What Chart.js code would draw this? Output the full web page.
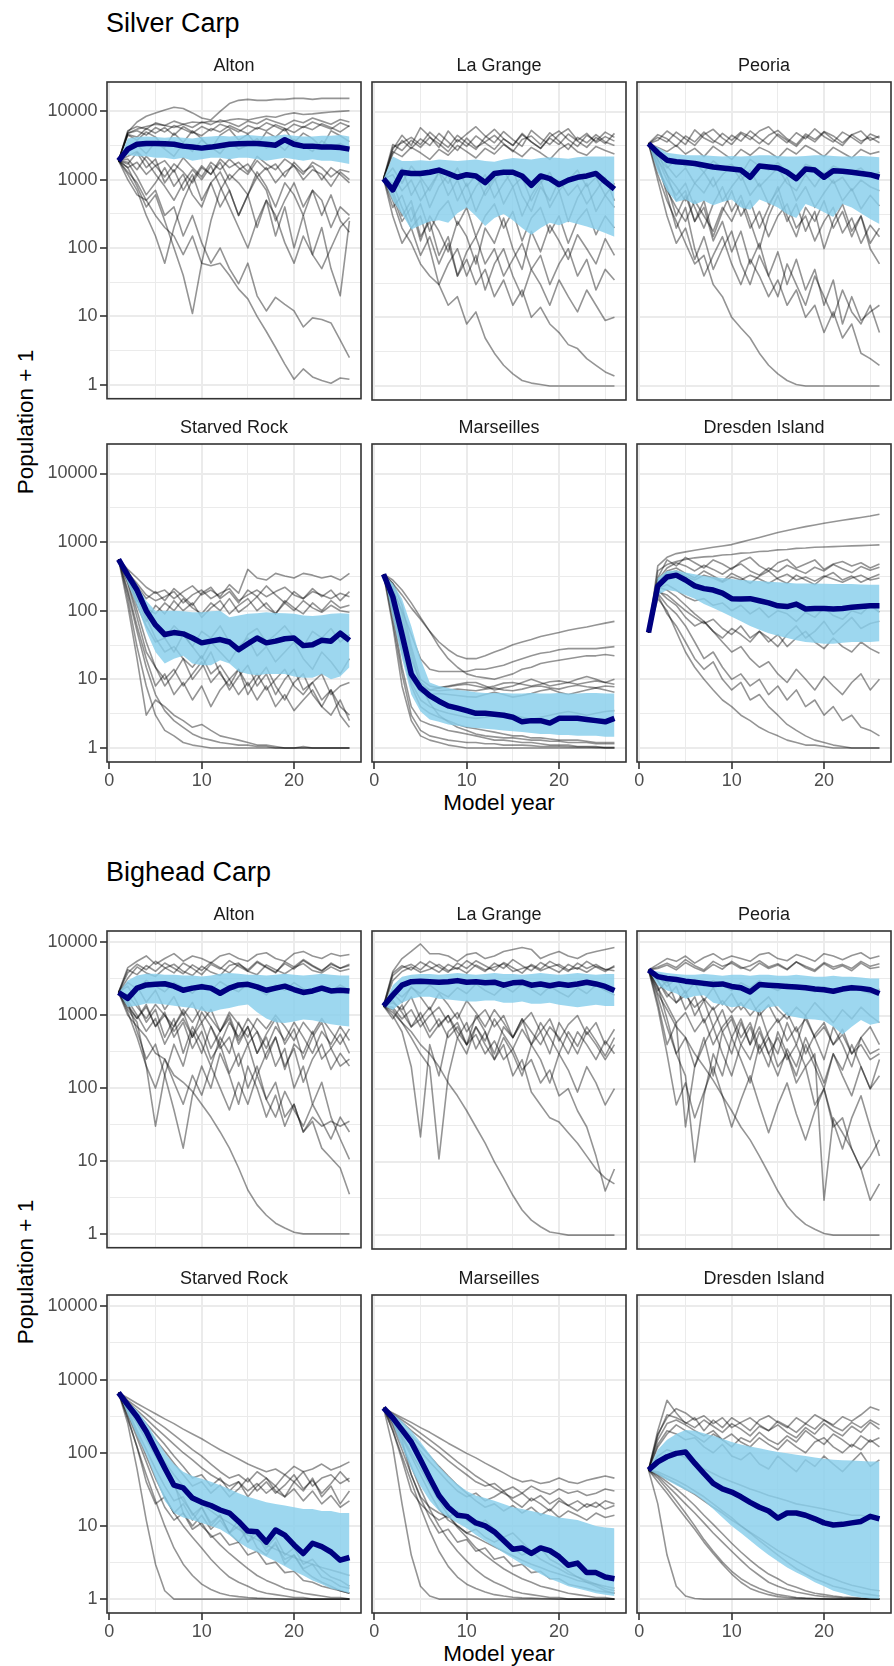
<!DOCTYPE html>
<html>
<head>
<meta charset="utf-8">
<script src="https://cdn.jsdelivr.net/npm/chart.js@4.4.1/dist/chart.umd.min.js"></script>
<style>
  body { margin: 0; background: #fff; }
  #page { position: relative; width: 894px; height: 1666px; font-family: "Liberation Sans", Arial, sans-serif; overflow: hidden; }
  #page canvas { position: absolute; }
  .ptitle { position: absolute; font-size: 27px; line-height: 27px; color: #000; white-space: nowrap; }
  .xtitle { position: absolute; font-size: 22.5px; line-height: 22.5px; color: #000; white-space: nowrap; transform: translateX(-50%); }
  .ytitle { position: absolute; font-size: 22.5px; line-height: 22.5px; color: #000; white-space: nowrap; transform: translate(-50%, -50%) rotate(-90deg); }
</style>
</head>
<body>
<div id="page"></div>
<script>
// model years and axis breaks
const years = [1, 2, 3, 4, 5, 6, 7, 8, 9, 10, 11, 12, 13, 14, 15, 16, 17, 18, 19, 20, 21, 22, 23, 24, 25, 26];
const yMajor = [1, 10, 100, 1000, 10000];
const yMinor = [3.162, 31.62, 316.2, 3162];
const xMajor = [0, 10, 20];
const xMinor = [5, 15, 25];

// ---- Silver carp ----
const silverAltonMedian = [1900, 2800, 3300, 3400, 3400, 3350, 3300, 3100, 3000, 2900, 3000, 3150, 3300, 3350, 3400, 3400, 3300, 3200, 3850, 3300, 3100, 3100, 3000, 3000, 2950, 2800];
const silverAltonLow = [1900, 2300, 2200, 2200, 2100, 2100, 2000, 2100, 1900, 2000, 2100, 2100, 2000, 2100, 2100, 2000, 1900, 2000, 2100, 2000, 1900, 2000, 1900, 1900, 1800, 1700];
const silverAltonHigh = [1900, 4000, 4200, 4300, 4200, 4100, 4200, 4100, 4000, 4200, 4300, 4400, 4300, 4400, 4500, 4400, 4300, 4400, 4600, 4400, 4300, 4300, 4400, 4400, 4500, 4300];
const silverAltonRuns = [
  [1900, 5000, 7000, 8500, 9500, 10500, 11500, 11000, 9500, 8000, 7500, 10000, 13000, 14500, 15000, 14500, 14500, 15000, 15000, 15500, 15500, 15000, 15500, 15500, 15500, 15500],
  [1900, 4800, 5500, 6000, 6500, 6200, 5800, 6500, 7000, 6800, 7200, 7000, 7500, 7800, 7500, 8000, 8500, 8200, 9000, 9500, 9000, 9200, 9500, 9800, 10000, 10200],
  [1900, 4800, 5200, 4500, 5800, 5000, 6200, 5500, 4800, 6000, 5200, 6500, 5800, 5000, 6200, 5500, 6800, 6000, 5200, 6500, 5800, 7000, 6200, 5500, 6800, 6000],
  [1900, 4500, 3800, 5000, 4200, 3000, 4800, 3500, 5200, 4000, 2800, 4500, 5500, 3800, 4600, 3200, 5000, 4200, 5600, 3500, 4800, 4000, 3000, 5200, 4400, 3600],
  [1900, 1500, 1800, 1200, 1600, 1100, 1700, 1300, 900, 1500, 1200, 1800, 1000, 1400, 1700, 1100, 1500, 900, 1300, 1600, 1000, 1400, 1200, 800, 1300, 1000],
  [1900, 1200, 700, 300, 150, 60, 200, 500, 1000, 1600, 1200, 2000, 1500, 1800, 1300, 2200, 1700, 1400, 2000, 1600, 1200, 1800, 1500, 1100, 1400, 1300],
  [1900, 1500, 800, 400, 600, 250, 100, 40, 11, 60, 250, 700, 1200, 900, 600, 1300, 800, 400, 900, 600, 300, 700, 500, 200, 400, 300],
  [1900, 1000, 600, 500, 300, 200, 150, 80, 150, 60, 55, 60, 40, 25, 18, 10, 6, 3.5, 2, 1.2, 1.7, 1.3, 1.15, 1.05, 1.25, 1.2],
  [1900, 1300, 900, 500, 700, 300, 400, 150, 300, 120, 60, 100, 50, 30, 60, 20, 12, 19, 15, 12, 7, 9.5, 9, 8, 4.5, 2.5],
  [1900, 1700, 2500, 1500, 2000, 900, 1400, 700, 1200, 500, 900, 400, 700, 300, 600, 200, 500, 150, 400, 100, 300, 80, 200, 50, 20, 250],
  [1900, 5200, 6000, 5500, 6800, 6200, 7200, 6500, 5800, 7000, 6400, 7500, 6800, 6000, 7200, 6600, 7800, 7000, 6300, 7400, 6800, 8000, 7200, 6500, 7600, 7000],
  [1900, 4600, 4200, 5600, 4800, 5800, 4500, 6000, 5000, 4400, 5600, 5000, 6200, 5400, 4700, 5800, 5200, 6400, 5600, 4900, 6000, 5400, 6600, 5800, 5000, 6200],
  [1900, 2600, 3200, 2400, 3600, 2800, 2200, 3400, 2600, 3800, 3000, 2400, 3600, 2800, 3200, 4000, 2900, 3500, 2700, 3900, 3100, 2600, 3700, 3000, 3400, 2800],
  [1900, 2000, 1400, 2200, 1600, 1900, 1300, 2100, 1500, 1100, 1800, 1400, 2000, 1500, 1200, 1900, 1400, 1700, 1100, 1800, 1300, 1600, 1000, 1500, 1200, 900],
  [1900, 1800, 1100, 600, 900, 1500, 800, 1200, 600, 400, 900, 1300, 700, 300, 600, 1100, 700, 250, 500, 900, 400, 700, 300, 600, 250, 170],
  [1900, 2200, 2600, 1900, 1200, 800, 500, 900, 1400, 1000, 1600, 800, 400, 200, 100, 250, 500, 300, 120, 60, 150, 80, 50, 100, 200, 280]
];

const silverLaGrangeMedian = [1050, 720, 1300, 1250, 1250, 1300, 1400, 1250, 1100, 1200, 1150, 920, 1250, 1300, 1300, 1150, 840, 1150, 1050, 860, 1000, 1100, 1150, 1250, 950, 740];
const silverLaGrangeLow = [1050, 500, 320, 190, 220, 250, 260, 240, 330, 400, 300, 215, 280, 320, 260, 200, 160, 200, 240, 220, 250, 230, 210, 190, 170, 150];
const silverLaGrangeHigh = [1050, 2200, 1900, 1900, 1950, 1900, 2000, 1950, 1900, 1950, 2000, 1900, 1850, 2000, 2100, 2050, 2000, 2100, 2150, 2100, 2050, 2150, 2200, 2200, 2200, 2200];
const silverLaGrangeRuns = [
  [1050, 3000, 3500, 4200, 3300, 5000, 3800, 3000, 4500, 3500, 2800, 4200, 5500, 4000, 3200, 4800, 3600, 2900, 4300, 5200, 3900, 3100, 4500, 3700, 5000, 4200],
  [1050, 2800, 4500, 3200, 5800, 4300, 3000, 5200, 3600, 4700, 6000, 4400, 3500, 5100, 3900, 3100, 5300, 4100, 3300, 4600, 5600, 3800, 4800, 3500, 4300, 3700],
  [1050, 2600, 2200, 3000, 2500, 2000, 2800, 2300, 3200, 2600, 2100, 2900, 2400, 3300, 2700, 2200, 3000, 2500, 2000, 2800, 3400, 2600, 2300, 3100, 2700, 2400],
  [1050, 600, 250, 400, 130, 300, 180, 90, 250, 150, 60, 200, 120, 280, 100, 50, 180, 90, 220, 130, 70, 160, 100, 60, 140, 80],
  [1050, 800, 1500, 600, 1000, 400, 800, 1200, 500, 900, 350, 700, 1100, 450, 800, 300, 600, 1000, 400, 700, 250, 550, 900, 350, 600, 400],
  [1050, 500, 200, 120, 60, 40, 30, 15, 20, 8, 12, 5, 3, 2, 1.5, 1.2, 1.1, 1.05, 1, 1, 1, 1, 1, 1, 1, 1],
  [1050, 700, 300, 500, 150, 250, 80, 150, 40, 70, 30, 50, 20, 35, 15, 25, 10, 14, 8, 6, 4, 3.5, 2.5, 2, 1.6, 1.4],
  [1050, 900, 400, 200, 300, 100, 30, 60, 100, 40, 80, 25, 60, 100, 40, 20, 50, 30, 15, 35, 20, 12, 25, 15, 9, 10],
  [1050, 3300, 2700, 3800, 3000, 4200, 3400, 2600, 3900, 3100, 4400, 3500, 2800, 4000, 3200, 4600, 3600, 2900, 4100, 3300, 4700, 3700, 3000, 4200, 3400, 4800],
  [1050, 2400, 3800, 2900, 4000, 3200, 4800, 3600, 2700, 4100, 3000, 3600, 4500, 3400, 2600, 3900, 4400, 3300, 4900, 3700, 2800, 4200, 3500, 4600, 3600, 3200],
  [1050, 1200, 700, 1000, 500, 800, 1300, 600, 1000, 450, 800, 1200, 550, 900, 1400, 600, 350, 800, 500, 1000, 600, 850, 450, 700, 1100, 500],
  [1050, 400, 600, 250, 450, 180, 350, 500, 220, 400, 150, 300, 450, 200, 350, 130, 280, 400, 170, 300, 120, 260, 380, 160, 300, 200],
  [1050, 1500, 900, 1600, 1100, 700, 1300, 900, 1500, 800, 1200, 600, 1000, 1400, 800, 1100, 500, 900, 1300, 700, 1000, 1400, 800, 1100, 600, 900],
  [1050, 300, 120, 200, 80, 150, 60, 120, 40, 90, 150, 60, 100, 40, 70, 120, 50, 80, 30, 60, 100, 40, 70, 25, 50, 35]
];

const silverPeoriaMedian = [3400, 2500, 1950, 1850, 1800, 1750, 1650, 1550, 1500, 1450, 1400, 1100, 1600, 1550, 1500, 1300, 1050, 1450, 1400, 1100, 1370, 1350, 1300, 1250, 1200, 1100];
const silverPeoriaLow = [3400, 1300, 700, 480, 520, 440, 500, 430, 480, 520, 400, 370, 520, 460, 400, 320, 280, 450, 400, 340, 290, 450, 400, 330, 270, 230];
const silverPeoriaHigh = [3400, 3000, 2500, 2400, 2300, 2300, 2300, 2250, 2200, 2250, 2200, 2250, 2300, 2300, 2250, 2200, 2200, 2250, 2300, 2300, 2250, 2200, 2200, 2250, 2200, 2150];
const silverPeoriaRuns = [
  [3400, 4200, 3600, 5000, 4000, 3200, 4600, 5500, 4100, 3300, 4800, 3900, 5200, 6000, 4400, 3500, 4900, 4000, 5600, 4300, 3600, 5000, 4200, 3400, 4700, 4100],
  [3400, 3800, 5200, 4200, 3300, 5400, 4100, 3500, 4800, 3800, 5000, 4300, 3400, 4500, 5300, 4000, 3300, 4700, 3900, 5100, 4400, 3500, 4600, 5200, 3800, 4400],
  [3400, 3000, 2600, 3200, 2400, 2900, 2200, 3100, 2500, 2000, 2800, 2300, 3000, 2600, 2100, 2900, 2400, 3200, 2700, 2200, 3000, 2500, 2100, 2800, 2400, 2600],
  [3400, 1500, 800, 300, 600, 250, 500, 150, 350, 700, 300, 500, 200, 400, 800, 300, 150, 400, 250, 500, 200, 350, 150, 300, 120, 200],
  [3400, 2000, 1000, 600, 900, 400, 200, 450, 800, 350, 600, 250, 100, 300, 600, 250, 450, 180, 350, 100, 250, 450, 180, 300, 100, 60],
  [3400, 1200, 500, 250, 120, 60, 80, 30, 20, 10, 7, 5, 3, 2, 1.5, 1.2, 1.05, 1, 1, 1, 1, 1, 1, 1, 1, 1],
  [3400, 1800, 600, 200, 400, 100, 40, 80, 150, 60, 30, 70, 40, 20, 35, 15, 25, 10, 15, 6, 12, 5, 8, 3, 2.5, 2],
  [3400, 2500, 1200, 500, 700, 250, 400, 130, 250, 90, 180, 60, 120, 40, 90, 30, 70, 25, 50, 15, 35, 8, 20, 9, 12, 15],
  [3400, 4600, 4000, 3100, 4400, 3600, 5000, 3800, 3200, 4500, 3700, 5200, 4100, 3300, 4700, 3800, 3100, 4400, 3600, 5000, 3900, 3200, 4600, 3700, 4200, 3500],
  [3400, 2000, 1200, 800, 500, 900, 650, 1100, 500, 800, 1200, 600, 900, 450, 700, 1100, 500, 800, 400, 650, 1000, 500, 750, 380, 600, 420],
  [3400, 1600, 700, 400, 250, 500, 300, 180, 400, 250, 500, 200, 350, 150, 300, 450, 200, 300, 130, 250, 400, 170, 280, 120, 220, 150],
  [3400, 2800, 1600, 1100, 1500, 900, 1300, 800, 1200, 1600, 1000, 1400, 800, 1100, 1500, 900, 700, 1200, 800, 1300, 900, 1100, 700, 1000, 800, 700],
  [3400, 2200, 1500, 2000, 1600, 1800, 1300, 1900, 1500, 1700, 1200, 2000, 1600, 1400, 1800, 1300, 1100, 1700, 1500, 1200, 1600, 1400, 1300, 1500, 1100, 1300],
  [3400, 1000, 300, 120, 200, 70, 150, 50, 100, 180, 60, 30, 80, 40, 20, 60, 30, 15, 40, 20, 10, 25, 12, 8, 15, 6]
];

const silverStarvedRockMedian = [560, 330, 200, 100, 62, 45, 48, 46, 40, 34, 36, 38, 35, 27, 33, 40, 34, 36, 39, 40, 31, 32, 37, 36, 47, 37];
const silverStarvedRockLow = [560, 250, 120, 50, 25, 17, 20, 22, 17, 16, 16, 19, 17, 13, 12, 11.5, 12, 12, 12, 11, 10.5, 10.5, 12, 10, 11, 15];
const silverStarvedRockHigh = [560, 380, 240, 140, 100, 100, 100, 98, 95, 95, 98, 100, 80, 85, 90, 92, 95, 93, 92, 90, 85, 84, 86, 90, 92, 90];
const silverStarvedRockRuns = [
  [560, 400, 300, 220, 180, 200, 150, 190, 230, 170, 200, 160, 240, 180, 400, 300, 280, 350, 320, 300, 350, 330, 300, 320, 280, 350],
  [560, 350, 250, 170, 140, 160, 190, 130, 170, 200, 150, 180, 210, 140, 170, 200, 160, 190, 220, 170, 150, 190, 170, 150, 180, 160],
  [560, 300, 150, 70, 120, 90, 140, 100, 130, 80, 110, 140, 90, 120, 150, 100, 130, 90, 140, 110, 90, 130, 100, 140, 110, 120],
  [560, 200, 60, 20, 8, 12, 6, 9, 5, 8, 4, 7, 10, 6, 9, 5, 8, 4, 6, 3.5, 5, 7, 4, 3, 5, 2.5],
  [560, 150, 30, 8, 3, 1.8, 1.5, 1.2, 1.1, 1.05, 1, 1, 1, 1, 1, 1, 1, 1, 1, 1, 1, 1, 1, 1, 1, 1],
  [560, 250, 80, 25, 15, 8, 12, 20, 10, 15, 25, 12, 8, 14, 6, 10, 15, 8, 5, 9, 12, 6, 4, 7, 3, 2],
  [560, 120, 20, 3, 5, 4, 3, 2.5, 2, 2.2, 1.8, 1.5, 1.4, 1.3, 1.2, 1.1, 1.1, 1.05, 1, 1, 1.05, 1, 1, 1, 1, 1],
  [560, 300, 120, 60, 35, 40, 25, 45, 30, 20, 35, 25, 18, 30, 40, 22, 30, 18, 25, 35, 20, 14, 25, 18, 12, 20],
  [560, 380, 230, 150, 190, 140, 210, 160, 120, 180, 220, 150, 190, 130, 200, 160, 230, 170, 130, 190, 150, 210, 160, 200, 140, 190],
  [560, 280, 140, 110, 90, 130, 100, 150, 110, 90, 130, 100, 150, 95, 120, 160, 110, 90, 130, 100, 140, 110, 95, 120, 100, 95],
  [560, 260, 100, 35, 15, 10, 14, 8, 12, 18, 9, 13, 7, 11, 16, 8, 12, 6, 10, 14, 7, 9, 12, 6, 8, 9],
  [560, 320, 180, 80, 40, 25, 30, 20, 15, 22, 12, 16, 10, 14, 8, 12, 7, 10, 14, 8, 6, 9, 5, 7, 4, 3],
  [560, 340, 190, 90, 55, 40, 60, 45, 30, 50, 40, 60, 35, 25, 45, 55, 35, 45, 60, 40, 30, 50, 40, 55, 35, 45],
  [560, 180, 50, 15, 6, 3.5, 2.5, 2, 1.6, 1.4, 1.3, 1.2, 1.15, 1.1, 1.1, 1.05, 1.05, 1, 1, 1, 1, 1, 1, 1, 1, 1]
];

const silverMarseillesMedian = [340, 160, 45, 12, 7.5, 5.8, 4.8, 4.1, 3.8, 3.5, 3.2, 3.2, 3.1, 3.0, 2.8, 2.4, 2.5, 2.5, 2.3, 2.7, 2.7, 2.7, 2.6, 2.5, 2.4, 2.7];
const silverMarseillesLow = [340, 80, 20, 6, 3.4, 2.6, 2.4, 2.2, 2.1, 2.0, 1.95, 1.9, 1.85, 1.8, 1.75, 1.7, 1.65, 1.6, 1.6, 1.55, 1.55, 1.5, 1.5, 1.5, 1.45, 1.45];
const silverMarseillesHigh = [340, 250, 150, 60, 20, 9, 8, 7.5, 7, 6.8, 6.5, 6.3, 6.3, 6.3, 6.2, 6.2, 6.3, 6.2, 6.2, 6.3, 6.2, 6.2, 6.3, 6.3, 6.2, 6.2];
const silverMarseillesRuns = [
  [340, 250, 170, 110, 75, 50, 35, 27, 22, 20, 20, 22, 25, 28, 32, 35, 38, 42, 45, 48, 52, 55, 58, 62, 66, 70],
  [340, 200, 100, 45, 20, 14, 13, 13, 13, 13, 14, 14, 15, 16, 18, 20, 22, 24, 25, 27, 28, 28, 28, 28, 29, 30],
  [340, 280, 200, 130, 80, 50, 30, 20, 15, 12, 11, 10.5, 10, 11, 12, 14, 15, 17, 18, 19, 20, 21, 22, 22, 23, 22],
  [340, 150, 50, 14, 8, 7, 7.5, 8, 8.5, 9, 9, 8, 7, 7.5, 8, 9, 10, 9, 8, 8.5, 9, 10, 11, 10, 9, 10],
  [340, 120, 35, 10, 6.5, 6, 6.2, 6, 5.8, 5.6, 5.5, 6, 6.5, 6, 5.5, 5.8, 6.2, 6.8, 7.2, 6.5, 6, 6.5, 7, 7.5, 7, 6.5],
  [340, 90, 15, 4, 2.5, 2.2, 2, 1.8, 1.7, 1.6, 1.5, 1.4, 1.3, 1.3, 1.25, 1.2, 1.2, 1.15, 1.1, 1.1, 1.1, 1.05, 1.05, 1.05, 1, 1],
  [340, 60, 8, 2.5, 1.5, 1.3, 1.2, 1.1, 1.05, 1, 1, 1, 1, 1, 1, 1, 1, 1, 1, 1, 1, 1, 1, 1, 1, 1],
  [340, 100, 25, 8, 4, 3.2, 2.8, 2.5, 2.2, 2, 1.9, 1.8, 1.7, 1.6, 1.5, 1.5, 1.4, 1.4, 1.35, 1.3, 1.3, 1.3, 1.25, 1.2, 1.2, 1.2],
  [340, 180, 70, 20, 9, 7, 6.8, 7, 7.2, 7, 6.8, 7.2, 7.5, 7, 6.8, 7.2, 7.8, 8, 7.5, 7.2, 7.8, 8.2, 7.8, 7.5, 8, 7.8],
  [340, 250, 120, 30, 10, 8, 7.5, 7.8, 8.2, 8.5, 8, 7.5, 8, 8.8, 9, 8.5, 8, 8.5, 9.2, 9.5, 9, 8.5, 9, 9.5, 9, 8.5],
  [340, 70, 12, 3, 1.8, 1.5, 1.4, 1.3, 1.25, 1.2, 1.2, 1.15, 1.15, 1.1, 1.1, 1.1, 1.08, 1.05, 1.05, 1.05, 1.04, 1.03, 1.03, 1.02, 1.02, 1.02],
  [340, 110, 30, 9, 5, 4, 3.5, 3.2, 3, 2.8, 2.7, 2.8, 3, 3.2, 3, 2.8, 2.6, 2.8, 3, 3.2, 3.4, 3.2, 3, 3.2, 3.4, 3.5],
  [340, 220, 90, 25, 8, 4.5, 3, 2.4, 2, 1.8, 1.6, 1.5, 1.45, 1.4, 1.4, 1.35, 1.3, 1.3, 1.25, 1.25, 1.2, 1.2, 1.2, 1.15, 1.15, 1.15]
];

const silverDresdenMedian = [48, 230, 310, 330, 280, 230, 210, 200, 180, 150, 148, 150, 140, 130, 118, 115, 125, 106, 108, 108, 106, 108, 112, 115, 118, 118];
const silverDresdenLow = [48, 170, 200, 190, 170, 150, 125, 110, 95, 82, 70, 60, 53, 47, 43, 40, 37, 35, 34, 33, 33, 34, 35, 35, 35, 36];
const silverDresdenHigh = [48, 300, 380, 390, 360, 340, 320, 310, 300, 290, 280, 275, 270, 265, 260, 255, 250, 250, 250, 248, 245, 245, 245, 242, 240, 240];
const silverDresdenRuns = [
  [48, 450, 600, 680, 720, 760, 800, 840, 880, 920, 1000, 1080, 1170, 1270, 1380, 1480, 1580, 1680, 1780, 1880, 1980, 2080, 2180, 2280, 2400, 2550],
  [48, 380, 470, 520, 560, 590, 610, 620, 650, 660, 690, 700, 730, 740, 770, 780, 810, 820, 840, 850, 860, 870, 880, 890, 900, 910],
  [48, 300, 550, 450, 600, 500, 420, 550, 480, 400, 520, 600, 450, 380, 500, 560, 420, 480, 550, 400, 480, 520, 450, 500, 420, 480],
  [48, 250, 380, 420, 350, 300, 380, 320, 270, 350, 300, 250, 320, 380, 290, 250, 330, 280, 240, 310, 360, 280, 320, 260, 300, 340],
  [48, 200, 150, 120, 80, 60, 70, 50, 40, 55, 45, 35, 50, 40, 30, 45, 60, 40, 50, 70, 45, 60, 80, 55, 65, 70],
  [48, 150, 100, 50, 25, 15, 10, 7, 5, 4, 3, 2.5, 2, 1.7, 1.5, 1.3, 1.2, 1.1, 1.1, 1.05, 1, 1, 1, 1, 1, 1],
  [48, 180, 120, 90, 60, 35, 20, 25, 15, 10, 12, 8, 10, 6, 8, 5, 7, 4, 5, 3, 4, 2.5, 3, 2, 1.8, 1.5],
  [48, 220, 200, 160, 120, 90, 70, 50, 35, 25, 30, 20, 15, 18, 12, 9, 14, 10, 7, 11, 8, 6, 9, 12, 7, 10],
  [48, 280, 420, 500, 450, 380, 460, 400, 340, 420, 480, 380, 330, 420, 370, 460, 400, 350, 430, 380, 470, 410, 360, 440, 390, 430],
  [48, 260, 350, 380, 320, 280, 330, 300, 260, 310, 280, 330, 290, 250, 300, 340, 280, 310, 270, 320, 290, 260, 300, 330, 280, 300],
  [48, 190, 170, 130, 100, 80, 65, 75, 55, 45, 60, 40, 50, 35, 45, 30, 40, 50, 35, 28, 40, 30, 25, 35, 28, 24],
  [48, 210, 240, 200, 160, 140, 150, 120, 130, 100, 120, 90, 110, 80, 100, 90, 70, 95, 80, 110, 85, 75, 100, 90, 120, 95],
  [48, 170, 90, 60, 35, 20, 14, 18, 10, 7, 9, 5, 6, 4, 3, 2.2, 1.8, 1.5, 1.3, 1.2, 1.1, 1.05, 1, 1, 1, 1]
];

// ---- Bighead carp ----
const bigheadAltonMedian = [2050, 1700, 2350, 2600, 2650, 2700, 2500, 2200, 2350, 2450, 2350, 2000, 2350, 2600, 2650, 2450, 2200, 2350, 2500, 2250, 2050, 2150, 2350, 2150, 2200, 2150];
const bigheadAltonLow = [2050, 1300, 1350, 1450, 1450, 1400, 1350, 1300, 1250, 1150, 1100, 1200, 1250, 1350, 1400, 1100, 900, 800, 780, 820, 870, 850, 800, 750, 720, 700];
const bigheadAltonHigh = [2050, 3000, 3500, 3700, 3700, 3600, 3600, 3500, 3500, 3400, 3500, 3700, 3800, 3700, 3600, 3600, 3500, 3600, 3700, 3600, 3500, 3600, 3700, 3600, 3500, 3500];
const bigheadAltonRuns = [
  [2050, 4500, 5500, 6500, 5000, 6000, 7000, 5500, 6500, 6000, 5200, 6500, 7000, 6000, 5500, 6800, 7200, 6000, 5500, 7000, 7500, 6500, 6000, 7000, 6500, 6800],
  [2050, 3800, 5000, 4200, 5500, 4500, 3800, 5200, 4400, 3600, 5000, 4300, 5600, 4700, 4000, 5300, 4500, 3800, 5400, 4600, 5800, 4800, 4100, 5000, 4400, 4800],
  [2050, 1400, 900, 1300, 700, 1000, 600, 900, 500, 1100, 700, 400, 800, 500, 900, 600, 350, 700, 450, 800, 500, 300, 600, 400, 700, 450],
  [2050, 2500, 1500, 800, 1200, 500, 900, 300, 700, 400, 200, 500, 300, 800, 400, 600, 250, 500, 180, 400, 300, 600, 250, 350, 200, 250],
  [2050, 1200, 800, 200, 30, 150, 400, 200, 600, 300, 700, 350, 500, 200, 400, 150, 300, 500, 200, 350, 120, 250, 400, 180, 300, 200],
  [2050, 1500, 600, 250, 400, 150, 50, 15, 80, 200, 100, 300, 150, 60, 200, 100, 40, 80, 30, 60, 25, 40, 30, 35, 30, 35],
  [2050, 1000, 700, 500, 300, 250, 150, 120, 90, 60, 40, 25, 15, 8, 4, 2.5, 1.8, 1.4, 1.2, 1.05, 1, 1, 1, 1, 1, 1],
  [2050, 1300, 900, 1400, 700, 1100, 500, 800, 350, 600, 250, 400, 160, 300, 100, 200, 70, 120, 40, 60, 25, 35, 15, 11, 8, 3.5],
  [2050, 1800, 2500, 1500, 2200, 1200, 1800, 1000, 1500, 800, 1200, 600, 900, 400, 700, 300, 500, 200, 350, 100, 200, 60, 120, 40, 20, 10.5],
  [2050, 4200, 3600, 4800, 4000, 5200, 4400, 3700, 4900, 4100, 5300, 4500, 3800, 5000, 4200, 5500, 4600, 3900, 5100, 4300, 5600, 4700, 4000, 5200, 4400, 5000],
  [2050, 3200, 4600, 3800, 3400, 4400, 5000, 4000, 3500, 4700, 3900, 3500, 4800, 5200, 4000, 3600, 4900, 4200, 3700, 4500, 5100, 4100, 3800, 4600, 4000, 4300],
  [2050, 1600, 1000, 600, 900, 400, 700, 1100, 500, 800, 350, 600, 1000, 450, 700, 300, 550, 900, 400, 650, 250, 500, 800, 350, 550, 300],
  [2050, 1900, 1300, 900, 1400, 1000, 700, 1200, 800, 1300, 900, 600, 1100, 750, 500, 900, 650, 1000, 700, 450, 800, 550, 900, 600, 400, 650],
  [2050, 2800, 2300, 3000, 2500, 2100, 2800, 2400, 2000, 2700, 2200, 2900, 2400, 2100, 2700, 2300, 1900, 2600, 2200, 2800, 2300, 2000, 2500, 2100, 2600, 2200],
  [2050, 1100, 500, 200, 100, 250, 120, 60, 150, 80, 200, 100, 50, 120, 60, 150, 70, 40, 90, 50, 30, 60, 35, 20, 40, 25]
];

const bigheadLaGrangeMedian = [1350, 1900, 2600, 2900, 2950, 2900, 2850, 2900, 3000, 2850, 2900, 2800, 2850, 2600, 2800, 2850, 2600, 2700, 2550, 2700, 2600, 2700, 2850, 2700, 2500, 2200];
const bigheadLaGrangeLow = [1350, 1200, 1500, 1700, 1800, 1800, 1700, 1650, 1600, 1550, 1550, 1600, 1600, 1500, 1500, 1550, 1450, 1450, 1500, 1400, 1350, 1300, 1350, 1400, 1350, 1350];
const bigheadLaGrangeHigh = [1350, 2600, 3400, 3600, 3700, 3700, 3600, 3700, 3800, 3700, 3600, 3700, 3800, 3700, 3700, 3600, 3700, 3800, 3700, 3600, 3700, 3800, 3700, 3600, 3700, 3700];
const bigheadLaGrangeRuns = [
  [1350, 4000, 6000, 7500, 9500, 7000, 7000, 6500, 5500, 6800, 7200, 6000, 6500, 7500, 8000, 8500, 8000, 6000, 6800, 7500, 6500, 6000, 7000, 7500, 8000, 8500],
  [1350, 3500, 4500, 5000, 4200, 5500, 4600, 3900, 5200, 4400, 5600, 4800, 4100, 5300, 4500, 3800, 5000, 4300, 5500, 4700, 4000, 5200, 4400, 5000, 4200, 4600],
  [1350, 1000, 600, 200, 22, 400, 150, 600, 800, 400, 1000, 600, 300, 700, 500, 900, 400, 600, 300, 800, 500, 300, 600, 400, 250, 400],
  [1350, 1100, 800, 500, 300, 200, 11, 150, 500, 300, 700, 400, 250, 500, 300, 150, 400, 250, 120, 300, 180, 90, 200, 120, 60, 100],
  [1350, 1200, 800, 600, 400, 300, 200, 120, 80, 50, 30, 18, 10, 6, 3.5, 2.2, 1.6, 1.3, 1.1, 1.05, 1, 1, 1, 1, 1, 1],
  [1350, 1500, 1200, 1800, 900, 1300, 700, 1000, 500, 800, 350, 600, 250, 400, 150, 250, 90, 60, 40, 35, 25, 18, 12, 8, 6, 5],
  [1350, 900, 1400, 700, 1100, 600, 900, 500, 700, 400, 550, 300, 450, 250, 350, 180, 250, 120, 180, 80, 100, 50, 30, 12, 4, 8],
  [1350, 2000, 1500, 2500, 1800, 1200, 2000, 1400, 900, 1600, 1100, 700, 1200, 800, 500, 900, 600, 400, 700, 500, 300, 600, 400, 250, 450, 300],
  [1350, 3800, 4800, 4200, 5400, 4600, 3900, 5000, 4300, 5600, 4700, 4000, 5200, 4400, 5800, 4800, 4100, 5300, 4500, 3900, 5000, 4300, 5500, 4600, 4000, 4800],
  [1350, 3000, 4000, 4600, 3900, 4300, 5000, 4100, 4500, 3800, 4900, 4200, 4600, 5100, 4000, 4400, 4800, 4100, 4600, 5000, 4200, 4500, 3900, 4700, 4300, 4100],
  [1350, 1300, 900, 1200, 700, 1000, 1300, 800, 1100, 600, 900, 1200, 700, 1000, 500, 800, 1100, 600, 900, 450, 750, 1000, 550, 800, 400, 650],
  [1350, 1600, 1100, 700, 900, 500, 750, 1000, 600, 400, 700, 450, 900, 550, 350, 650, 400, 800, 500, 300, 600, 380, 700, 450, 280, 500],
  [1350, 2200, 1800, 2400, 2000, 2600, 2100, 1800, 2400, 2000, 2700, 2200, 1900, 2500, 2100, 2700, 2300, 1900, 2500, 2100, 1800, 2400, 2000, 2600, 2200, 1900]
];

const bigheadPeoriaMedian = [4200, 3400, 3200, 3100, 2950, 2850, 2750, 2650, 2700, 2500, 2400, 2100, 2650, 2600, 2550, 2500, 2450, 2400, 2300, 2250, 2150, 2300, 2400, 2350, 2250, 2000];
const bigheadPeoriaLow = [4200, 2600, 2200, 2000, 1700, 1850, 1900, 1500, 1400, 1300, 1350, 1200, 1100, 1300, 1350, 1000, 950, 900, 880, 850, 700, 550, 700, 870, 750, 800];
const bigheadPeoriaHigh = [4200, 4000, 3800, 3700, 3600, 3600, 3700, 3600, 3500, 3600, 3600, 3500, 3600, 3600, 3500, 3500, 3600, 3500, 3400, 3400, 3500, 3400, 3400, 3300, 3200, 3200];
const bigheadPeoriaRuns = [
  [4200, 5000, 6000, 5500, 6500, 5200, 6200, 7000, 5800, 6500, 6000, 5500, 6800, 7200, 6000, 5600, 6800, 6200, 5500, 7000, 6500, 5800, 6600, 7200, 6000, 6500],
  [4200, 4600, 5200, 4500, 5800, 4800, 4200, 5500, 4700, 5200, 4400, 4800, 5600, 4600, 5100, 4300, 5400, 4700, 4200, 5300, 4600, 5000, 4400, 5500, 4700, 5100],
  [4200, 1500, 400, 800, 30, 200, 500, 150, 600, 300, 800, 400, 1200, 500, 300, 800, 400, 1000, 500, 250, 700, 400, 200, 500, 300, 350],
  [4200, 2500, 900, 300, 150, 10, 80, 300, 150, 500, 250, 120, 400, 200, 600, 300, 150, 400, 200, 100, 300, 150, 80, 200, 100, 150],
  [4200, 2000, 1200, 700, 500, 300, 200, 130, 80, 50, 30, 20, 12, 7, 4, 2.5, 1.8, 1.4, 1.2, 1.05, 1, 1, 1, 1, 1, 1],
  [4200, 3000, 1800, 2500, 1200, 1800, 800, 1300, 600, 900, 400, 700, 300, 500, 200, 300, 120, 200, 60, 100, 30, 40, 15, 8, 3, 5],
  [4200, 2200, 3000, 1500, 2200, 1000, 1600, 700, 1200, 500, 900, 400, 700, 300, 500, 250, 400, 200, 300, 3, 40, 25, 15, 8, 12, 20],
  [4200, 3500, 2500, 3200, 2000, 2800, 1600, 2400, 1400, 2000, 1200, 1700, 1000, 1400, 800, 1100, 600, 900, 500, 700, 400, 550, 300, 400, 250, 300],
  [4200, 4400, 4900, 4200, 5300, 4500, 4000, 5000, 4300, 5500, 4600, 4100, 5200, 4400, 4900, 4200, 5400, 4500, 4000, 5100, 4300, 4800, 4100, 5200, 4400, 4600],
  [4200, 2400, 1400, 800, 1100, 600, 900, 400, 700, 1000, 500, 800, 350, 600, 900, 450, 700, 300, 550, 800, 400, 650, 300, 500, 700, 400],
  [4200, 1800, 700, 300, 500, 200, 400, 700, 300, 150, 400, 250, 600, 300, 150, 350, 200, 500, 250, 120, 300, 180, 400, 200, 100, 250],
  [4200, 3000, 2000, 1500, 1900, 1300, 1700, 1200, 1600, 1100, 1500, 1000, 1400, 1800, 1200, 900, 1300, 1000, 1500, 1100, 800, 1200, 900, 1300, 1000, 800],
  [4200, 3200, 2800, 3300, 2700, 3100, 2500, 3000, 2600, 2200, 2800, 2400, 3000, 2500, 2200, 2700, 2300, 2600, 2100, 2500, 2000, 2400, 2600, 2200, 2000, 2300],
  [4200, 1300, 300, 60, 120, 40, 90, 200, 80, 30, 70, 150, 60, 25, 60, 120, 45, 20, 50, 100, 35, 15, 40, 80, 30, 12]
];

const bigheadStarvedRockMedian = [660, 450, 310, 195, 110, 62, 36, 33, 24, 21, 19, 16.5, 15, 11.5, 8.5, 8.3, 6, 8.8, 7.5, 5.5, 4.2, 5.8, 5.2, 4.4, 3.4, 3.7];
const bigheadStarvedRockLow = [660, 330, 170, 95, 45, 22, 15, 13, 12, 11, 10, 9, 7.5, 6, 5, 4.4, 3.8, 3.3, 2.8, 2.4, 2.1, 1.8, 1.6, 1.4, 1.3, 1.2];
const bigheadStarvedRockHigh = [660, 500, 380, 260, 160, 100, 70, 55, 48, 44, 40, 36, 32, 28, 25, 23, 21, 20, 19, 18, 17, 17, 16, 16, 15, 15];
const bigheadStarvedRockRuns = [
  [660, 560, 470, 400, 340, 290, 250, 210, 180, 155, 130, 110, 95, 82, 70, 62, 55, 60, 50, 65, 55, 60, 70, 58, 65, 75],
  [660, 520, 420, 340, 270, 220, 175, 140, 110, 90, 70, 55, 45, 50, 40, 55, 45, 35, 50, 40, 55, 35, 45, 50, 38, 45],
  [660, 480, 350, 250, 180, 130, 90, 65, 45, 50, 35, 45, 30, 40, 25, 35, 45, 30, 25, 40, 30, 45, 25, 35, 20, 30],
  [660, 300, 120, 40, 20, 25, 15, 20, 12, 18, 10, 14, 8, 12, 6, 9, 5, 7, 4, 5, 3, 3.5, 2.5, 2, 1.8, 1.5],
  [660, 250, 60, 12, 3, 1.3, 1, 1, 1, 1, 1, 1, 1, 1, 1, 1, 1, 1, 1, 1, 1, 1, 1, 1, 1, 1],
  [660, 350, 180, 90, 45, 25, 15, 10, 7, 5, 3.5, 2.6, 2, 1.7, 1.5, 1.3, 1.2, 1.15, 1.1, 1.05, 1.05, 1, 1, 1, 1, 1],
  [660, 400, 250, 150, 90, 55, 35, 22, 15, 10, 7.5, 5.5, 4.2, 3.3, 2.6, 2.1, 1.8, 1.6, 1.4, 1.3, 1.2, 1.15, 1.1, 1.05, 1.05, 1],
  [660, 420, 270, 170, 105, 65, 40, 15, 10, 14, 9, 12, 8, 6, 9, 5, 4, 6, 3, 4, 2.5, 2, 1.7, 1.5, 1.3, 1.2],
  [660, 500, 380, 290, 220, 170, 130, 100, 80, 62, 50, 42, 35, 40, 30, 38, 28, 35, 25, 32, 22, 30, 20, 26, 18, 22],
  [660, 460, 320, 220, 150, 105, 72, 50, 35, 40, 28, 36, 25, 32, 45, 30, 40, 28, 36, 50, 32, 42, 28, 38, 55, 40],
  [660, 380, 200, 110, 60, 35, 22, 25, 14, 18, 11, 14, 8, 10, 6, 7.5, 4.5, 5.5, 3.5, 4, 2.6, 3, 2, 1.8, 1.5, 1.4],
  [660, 330, 160, 75, 35, 18, 12, 15, 9, 11, 7, 8, 5.5, 6, 4, 4.5, 3, 3.2, 2.3, 2.4, 1.8, 1.7, 1.5, 1.4, 1.3, 1.2],
  [660, 420, 280, 180, 115, 75, 50, 35, 26, 20, 16, 13, 11, 9, 7.5, 6.5, 5.5, 4.8, 4.2, 3.7, 3.3, 3, 2.7, 2.5, 2.3, 2.1],
  [660, 290, 120, 50, 22, 10, 5, 3, 2.1, 1.6, 1.35, 1.2, 1.12, 1.08, 1.05, 1.03, 1.02, 1.01, 1, 1, 1, 1, 1, 1, 1, 1]
];

const bigheadMarseillesMedian = [410, 300, 205, 140, 80, 45, 26, 18, 14, 13.5, 11, 10, 8.3, 6.3, 4.8, 5, 4.2, 5, 4.6, 3.8, 2.9, 3.1, 2.3, 2.3, 2.0, 1.9];
const bigheadMarseillesLow = [410, 250, 120, 60, 35, 22, 16, 13, 11, 9.3, 7.5, 6.2, 5.2, 4.3, 3.6, 3, 2.6, 2.2, 1.9, 1.7, 1.5, 1.4, 1.3, 1.2, 1.15, 1.1];
const bigheadMarseillesHigh = [410, 340, 270, 200, 140, 95, 65, 48, 37, 30, 26, 24, 22, 20, 18, 17, 16, 15, 14, 13, 12.5, 12, 11, 10, 9.5, 9.3];
const bigheadMarseillesRuns = [
  [410, 350, 300, 260, 220, 190, 160, 135, 115, 98, 85, 72, 62, 53, 45, 40, 42, 38, 40, 45, 40, 38, 42, 45, 48, 45],
  [410, 330, 260, 200, 160, 125, 100, 78, 62, 50, 40, 35, 38, 30, 34, 28, 35, 30, 27, 32, 28, 30, 26, 28, 32, 30],
  [410, 300, 210, 150, 105, 75, 55, 40, 30, 25, 28, 22, 25, 30, 22, 18, 24, 20, 16, 22, 19, 16, 20, 18, 22, 20],
  [410, 200, 80, 30, 20, 15, 12, 14, 10, 8, 9, 7, 6, 7, 5, 4, 4.5, 3.5, 3, 2.6, 2.2, 2, 1.8, 1.6, 1.4, 1.3],
  [410, 120, 20, 4, 1.5, 1.1, 1, 1, 1, 1, 1, 1, 1, 1, 1, 1, 1, 1, 1, 1, 1, 1, 1, 1, 1, 1],
  [410, 250, 130, 65, 32, 17, 10, 6.5, 4.5, 3.3, 2.5, 2, 1.7, 1.5, 1.3, 1.2, 1.15, 1.1, 1.05, 1.05, 1, 1, 1, 1, 1, 1],
  [410, 280, 170, 100, 60, 36, 22, 14, 9.5, 7, 5, 4, 3.2, 2.6, 2.2, 1.9, 1.7, 1.5, 1.4, 1.3, 1.2, 1.15, 1.1, 1.05, 1.05, 1],
  [410, 260, 150, 50, 25, 18, 15, 13, 16, 12, 10, 12, 9, 7, 8, 6, 4.5, 5, 3.5, 3, 2.4, 2, 1.7, 1.5, 1.3, 1.2],
  [410, 340, 280, 230, 185, 150, 120, 95, 75, 60, 48, 40, 33, 28, 24, 28, 22, 26, 20, 24, 19, 22, 18, 21, 17, 19],
  [410, 310, 230, 170, 125, 90, 65, 48, 36, 28, 22, 18, 20, 16, 19, 15, 18, 14, 17, 13, 16, 14, 12, 15, 13, 14],
  [410, 230, 110, 50, 24, 13, 8, 9, 6, 6.5, 4.5, 5, 3.5, 3.8, 2.8, 3, 2.3, 2.4, 1.9, 1.9, 1.6, 1.5, 1.4, 1.3, 1.25, 1.2],
  [410, 270, 160, 90, 50, 28, 17, 12, 10, 8, 7, 6, 5.2, 4.5, 3.9, 3.4, 3, 2.7, 2.4, 2.2, 2, 1.8, 1.7, 1.6, 1.5, 1.4],
  [410, 200, 90, 40, 18, 8.5, 4.5, 2.8, 2, 1.6, 1.4, 1.25, 1.15, 1.1, 1.06, 1.04, 1.03, 1.02, 1.01, 1, 1, 1, 1, 1, 1, 1]
];

const bigheadDresdenMedian = [58, 75, 88, 98, 102, 72, 52, 38, 32, 29, 25, 21, 18, 16, 12.8, 15, 15, 14, 12.5, 11, 10.3, 10.5, 11, 11.5, 13.5, 12.5];
const bigheadDresdenLow = [58, 50, 42, 36, 31, 27, 22, 17, 13, 10, 8, 6.3, 5, 4, 3.3, 2.7, 2.3, 2, 1.7, 1.5, 1.3, 1.2, 1.1, 1.05, 1.02, 1.01];
const bigheadDresdenHigh = [58, 110, 150, 180, 205, 200, 185, 170, 155, 140, 130, 122, 115, 108, 102, 98, 94, 90, 86, 83, 80, 79, 78, 77, 76, 76];
const bigheadDresdenRuns = [
  [58, 200, 520, 350, 250, 300, 200, 280, 220, 300, 250, 200, 280, 320, 260, 220, 300, 250, 330, 280, 240, 310, 270, 330, 420, 380],
  [58, 180, 300, 400, 350, 280, 320, 250, 300, 220, 260, 300, 240, 200, 270, 230, 190, 250, 210, 280, 230, 200, 260, 220, 280, 240],
  [58, 150, 250, 280, 240, 200, 170, 200, 150, 180, 140, 120, 160, 130, 110, 150, 120, 100, 140, 160, 120, 100, 130, 110, 150, 120],
  [58, 130, 200, 180, 150, 160, 120, 100, 130, 90, 80, 100, 70, 60, 90, 70, 55, 80, 65, 90, 70, 55, 75, 100, 65, 80],
  [58, 20, 4, 1.5, 1.1, 1.02, 1, 1, 1, 1, 1, 1, 1, 1, 1, 1, 1, 1, 1, 1, 1, 1, 1, 1, 1, 1],
  [58, 45, 32, 22, 15, 10, 6.5, 4.5, 3.2, 2.4, 1.9, 1.6, 1.4, 1.25, 1.15, 1.1, 1.05, 1.03, 1.02, 1.01, 1, 1, 1, 1, 1, 1],
  [58, 50, 40, 32, 25, 19, 14, 10.5, 7.8, 5.8, 4.4, 3.4, 2.7, 2.2, 1.9, 1.6, 1.45, 1.3, 1.2, 1.15, 1.1, 1.07, 1.05, 1.03, 1.02, 1.01],
  [58, 55, 48, 42, 36, 30, 25, 20, 16, 13, 10, 8, 6.3, 5, 4, 3.2, 2.6, 2.2, 1.9, 1.7, 1.5, 1.4, 1.3, 1.2, 1.15, 1.1],
  [58, 170, 330, 300, 260, 220, 280, 230, 190, 250, 210, 170, 230, 200, 240, 190, 160, 220, 180, 250, 200, 170, 230, 190, 260, 210],
  [58, 120, 180, 240, 200, 170, 140, 180, 150, 120, 160, 140, 190, 150, 130, 170, 140, 200, 160, 130, 180, 150, 120, 170, 140, 160],
  [58, 40, 28, 19, 13, 9, 6, 4.2, 3, 2.2, 1.7, 1.4, 1.25, 1.15, 1.08, 1.05, 1.03, 1.02, 1.01, 1, 1, 1, 1, 1, 1, 1],
  [58, 48, 36, 27, 20, 15, 11, 8, 6, 4.5, 3.4, 2.6, 2.1, 1.7, 1.5, 1.35, 1.25, 1.18, 1.12, 1.08, 1.06, 1.04, 1.03, 1.02, 1.01, 1.01],
  [58, 52, 44, 38, 32, 27, 22, 18, 15, 12, 10, 8.2, 6.8, 5.6, 4.6, 3.9, 3.3, 2.8, 2.4, 2.1, 1.9, 1.7, 1.55, 1.45, 1.35, 1.3],
  [58, 90, 110, 100, 85, 70, 60, 52, 45, 40, 36, 32, 29, 26, 24, 22, 20, 19, 18, 17, 16, 15, 14, 14, 13, 13]
];

const silverPanels = [
  { site: "Alton", median: silverAltonMedian, low: silverAltonLow, high: silverAltonHigh, runs: silverAltonRuns },
  { site: "La Grange", median: silverLaGrangeMedian, low: silverLaGrangeLow, high: silverLaGrangeHigh, runs: silverLaGrangeRuns },
  { site: "Peoria", median: silverPeoriaMedian, low: silverPeoriaLow, high: silverPeoriaHigh, runs: silverPeoriaRuns },
  { site: "Starved Rock", median: silverStarvedRockMedian, low: silverStarvedRockLow, high: silverStarvedRockHigh, runs: silverStarvedRockRuns },
  { site: "Marseilles", median: silverMarseillesMedian, low: silverMarseillesLow, high: silverMarseillesHigh, runs: silverMarseillesRuns },
  { site: "Dresden Island", median: silverDresdenMedian, low: silverDresdenLow, high: silverDresdenHigh, runs: silverDresdenRuns }
];
const bigheadPanels = [
  { site: "Alton", median: bigheadAltonMedian, low: bigheadAltonLow, high: bigheadAltonHigh, runs: bigheadAltonRuns },
  { site: "La Grange", median: bigheadLaGrangeMedian, low: bigheadLaGrangeLow, high: bigheadLaGrangeHigh, runs: bigheadLaGrangeRuns },
  { site: "Peoria", median: bigheadPeoriaMedian, low: bigheadPeoriaLow, high: bigheadPeoriaHigh, runs: bigheadPeoriaRuns },
  { site: "Starved Rock", median: bigheadStarvedRockMedian, low: bigheadStarvedRockLow, high: bigheadStarvedRockHigh, runs: bigheadStarvedRockRuns },
  { site: "Marseilles", median: bigheadMarseillesMedian, low: bigheadMarseillesLow, high: bigheadMarseillesHigh, runs: bigheadMarseillesRuns },
  { site: "Dresden Island", median: bigheadDresdenMedian, low: bigheadDresdenLow, high: bigheadDresdenHigh, runs: bigheadDresdenRuns }
];

// layout (pixels)
const FONT = "'Liberation Sans', Arial, sans-serif";
const colLeft = [107, 372, 637];
const PANEL_W = 254, PANEL_H = 318, STRIP_H = 34;
const species = [
  { name: "Silver Carp", panels: silverPanels, rowTop: [82, 444], yMin: 0.6237, yMax: 26915, titleTop: 10, xTitleTop: 792 },
  { name: "Bighead Carp", panels: bigheadPanels, rowTop: [931, 1295], yMin: 0.6457, yMax: 14289, titleTop: 859, xTitleTop: 1643 }
];

const page = document.getElementById("page");

// ggplot-style panel border on top of the data
const panelBorder = {
  id: "panelBorder",
  afterDatasetsDraw(chart) {
    const { ctx, chartArea: a } = chart;
    ctx.save();
    ctx.strokeStyle = "#333333";
    ctx.lineWidth = 1.6;
    ctx.strokeRect(a.left, a.top, a.right - a.left, a.bottom - a.top);
    ctx.restore();
  }
};

function addText(text, cls, left, top) {
  const d = document.createElement("div");
  d.className = cls;
  d.textContent = text;
  d.style.left = left + "px";
  d.style.top = top + "px";
  page.appendChild(d);
}

function toPoints(values) {
  return values.map((v, i) => ({ x: years[i], y: v }));
}

function drawPanel(sp, idx, panel) {
  const row = Math.floor(idx / 3), col = idx % 3;
  const bottomRow = row === 1, leftCol = col === 0;
  // top row needs a little room below so the "1" label does not squeeze the plot area
  const padL = leftCol ? 72 : 14, padR = 6, padB = bottomRow ? 44 : 12;
  const w = padL + PANEL_W + padR, h = STRIP_H + PANEL_H + padB;

  const canvas = document.createElement("canvas");
  canvas.width = w;
  canvas.height = h;
  canvas.style.width = w + "px";
  canvas.style.height = h + "px";
  canvas.style.left = (colLeft[col] - padL) + "px";
  canvas.style.top = (sp.rowTop[row] - STRIP_H) + "px";
  page.appendChild(canvas);

  const datasets = [
    { data: toPoints(panel.median), borderColor: "#000080", borderWidth: 5.5, fill: false, order: 0 },
    { data: toPoints(panel.low), borderColor: "rgba(0,0,0,0)", borderWidth: 0, fill: false, order: 1 },
    { data: toPoints(panel.high), borderColor: "rgba(0,0,0,0)", borderWidth: 0, fill: "-1", backgroundColor: "rgba(135,206,235,0.82)", order: 1 }
  ];
  panel.runs.forEach(r => {
    datasets.push({ data: toPoints(r), borderColor: "rgba(0,0,0,0.42)", borderWidth: 1.6, fill: false, order: 2 });
  });

  const tickFont = { family: FONT, size: 18, lineHeight: 1.2 };

  new Chart(canvas, {
    type: "line",
    data: { datasets },
    plugins: [panelBorder],
    options: {
      responsive: false,
      animation: false,
      devicePixelRatio: 1,
      layout: { padding: { left: 0, right: padR, top: 0, bottom: bottomRow ? 0 : padB } },
      elements: {
        point: { radius: 0, hoverRadius: 0 },
        line: { tension: 0, borderJoinStyle: "round" }
      },
      plugins: {
        legend: { display: false },
        tooltip: { enabled: false },
        title: {
          display: true,
          text: panel.site,
          fullSize: false,
          color: "#1A1A1A",
          font: { family: FONT, size: 18, lineHeight: 1.2, weight: "normal" },
          padding: { top: 7.2, bottom: 5.2 }
        }
      },
      scales: {
        x: {
          type: "linear",
          min: -0.25,
          max: 27.25,
          bounds: "data",
          afterBuildTicks: s => { s.ticks = xMajor.concat(xMinor).sort((a, b) => a - b).map(v => ({ value: v })); },
          afterFit: s => { s.height = bottomRow ? padB : 0; },
          ticks: {
            display: bottomRow,
            autoSkip: false,
            maxRotation: 0,
            padding: 1,
            color: "#4D4D4D",
            font: tickFont,
            callback: v => xMajor.includes(v) ? String(v) : ""
          },
          grid: {
            color: "#EBEBEB",
            lineWidth: c => (c.tick && xMajor.includes(c.tick.value)) ? 2 : 1,
            drawTicks: bottomRow,
            tickLength: 7,
            tickWidth: 1.6,
            tickColor: c => (c.tick && xMajor.includes(c.tick.value)) ? "#333333" : "rgba(0,0,0,0)"
          },
          border: { display: false }
        },
        y: {
          type: "logarithmic",
          min: sp.yMin,
          max: sp.yMax,
          bounds: "data",
          afterBuildTicks: s => { s.ticks = yMajor.concat(yMinor).sort((a, b) => a - b).map(v => ({ value: v })); },
          afterFit: s => { s.width = padL; },
          ticks: {
            display: leftCol,
            autoSkip: false,
            padding: 2.5,
            color: "#4D4D4D",
            font: tickFont,
            callback: v => yMajor.includes(v) ? String(v) : ""
          },
          grid: {
            color: "#EBEBEB",
            lineWidth: c => (c.tick && yMajor.includes(c.tick.value)) ? 2 : 1,
            drawTicks: leftCol,
            tickLength: 7,
            tickWidth: 1.6,
            tickColor: c => (c.tick && yMajor.includes(c.tick.value)) ? "#333333" : "rgba(0,0,0,0)"
          },
          border: { display: false }
        }
      }
    }
  });
}

species.forEach(sp => {
  addText(sp.name, "ptitle", 106, sp.titleTop);
  addText("Population + 1", "ytitle", 26, (sp.rowTop[0] + sp.rowTop[1] + PANEL_H) / 2);
  addText("Model year", "xtitle", 499, sp.xTitleTop);
  sp.panels.forEach((p, i) => drawPanel(sp, i, p));
});
</script>
</body>
</html>
